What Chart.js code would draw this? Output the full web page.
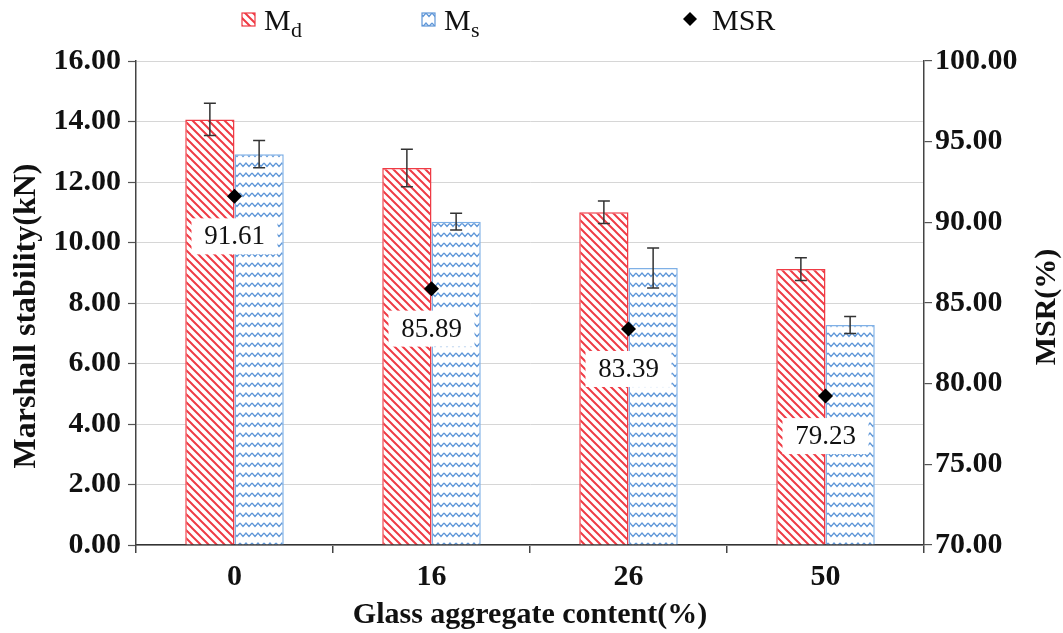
<!DOCTYPE html>
<html>
<head>
<meta charset="utf-8">
<script src="https://cdn.jsdelivr.net/npm/chart.js@4/dist/chart.umd.min.js"></script>
<style>
  html, body { margin: 0; padding: 0; background: #ffffff; }
  #wrap { width: 1063px; height: 633px; }
</style>
</head>
<body>
<div id="wrap"><canvas id="c" width="1063" height="633"></canvas></div>
<script>
// Glass aggregate content (%) on the x axis
const categories = ['0', '16', '26', '50'];
// Marshall stability, dry (Md) and soaked (Ms), kN
const mdValues = [14.07, 12.46, 11.00, 9.12];
const msValues = [12.92, 10.69, 9.16, 7.27];
// Standard deviation of each stability value, kN
const mdErrors = [0.53, 0.62, 0.37, 0.38];
const msErrors = [0.45, 0.28, 0.66, 0.28];
// Marshall stability ratio, %
const msrValues = [91.61, 85.89, 83.39, 79.23];
// Axis ranges and tick steps
const leftTicks = { min: 0, max: 16, step: 2 };
const rightTicks = { min: 70, max: 100, step: 5 };

const SERIF = "'Liberation Serif', 'Times New Roman', serif";
const RED = '#ef3b45';
const BLUE = '#5f97d8';

// Diagonal red hatch for Md bars
function hatchPattern() {
  const s = 8;
  const c = document.createElement('canvas');
  c.width = s; c.height = s;
  const g = c.getContext('2d');
  g.fillStyle = '#ffffff';
  g.fillRect(0, 0, s, s);
  g.strokeStyle = RED;
  g.lineWidth = 2.0;
  g.beginPath();
  g.moveTo(-2, -2); g.lineTo(s + 2, s + 2);
  g.moveTo(-2 - s, -2); g.lineTo(2, s + 2);
  g.moveTo(s - 2, -2); g.lineTo(2 * s + 2, s + 2);
  g.stroke();
  return g.createPattern(c, 'repeat');
}

// Blue zigzag waves for Ms bars
function wavePattern() {
  const w = 12, h = 10;
  const c = document.createElement('canvas');
  c.width = w; c.height = h;
  const g = c.getContext('2d');
  g.fillStyle = '#ffffff';
  g.fillRect(0, 0, w, h);
  g.strokeStyle = BLUE;
  g.lineWidth = 1.3;
  g.beginPath();
  g.moveTo(0, 3);
  g.lineTo(3, 6.5);
  g.lineTo(6, 3);
  g.lineTo(9, 6.5);
  g.lineTo(12, 3);
  g.stroke();
  return g.createPattern(c, 'repeat');
}

const mdFill = hatchPattern();
const msFill = wavePattern();

// Error bars for the two bar series
const errorBars = {
  id: 'errorBars',
  afterDatasetsDraw(chart) {
    const ctx = chart.ctx;
    const y = chart.scales.y;
    const sets = [[0, mdValues, mdErrors], [1, msValues, msErrors]];
    ctx.save();
    ctx.strokeStyle = '#333333';
    ctx.lineWidth = 1.5;
    sets.forEach(([idx, vals, errs]) => {
      const meta = chart.getDatasetMeta(idx);
      meta.data.forEach((bar, i) => {
        const x = bar.x;
        const top = y.getPixelForValue(vals[i] + errs[i]);
        const bot = y.getPixelForValue(vals[i] - errs[i]);
        ctx.beginPath();
        ctx.moveTo(x, top); ctx.lineTo(x, bot);
        ctx.moveTo(x - 6, top); ctx.lineTo(x + 6, top);
        ctx.moveTo(x - 6, bot); ctx.lineTo(x + 6, bot);
        ctx.stroke();
      });
    });
    ctx.restore();
  }
};

// Boxed value labels below the MSR markers
const msrLabels = {
  id: 'msrLabels',
  afterDatasetsDraw(chart) {
    const ctx = chart.ctx;
    const meta = chart.getDatasetMeta(2);
    ctx.save();
    ctx.font = '27px ' + SERIF;
    ctx.textAlign = 'center';
    ctx.textBaseline = 'middle';
    meta.data.forEach((pt, i) => {
      const cx = pt.x, cy = pt.y + 40;
      ctx.fillStyle = '#ffffff';
      ctx.fillRect(cx - 43, cy - 18, 86, 36);
      ctx.fillStyle = '#111111';
      ctx.fillText(msrValues[i].toFixed(2), cx, cy + 1);
    });
    ctx.restore();
  }
};

// Legend with subscripted series names, and the two vertical axis titles
const decorations = {
  id: 'decorations',
  afterDraw(chart) {
    const ctx = chart.ctx;
    ctx.save();
    const cy = 19;
    // Md
    ctx.fillStyle = mdFill;
    ctx.fillRect(242, cy - 6, 13, 13);
    ctx.strokeStyle = RED; ctx.lineWidth = 1.2;
    ctx.strokeRect(242, cy - 6, 13, 13);
    // Ms
    ctx.fillStyle = msFill;
    ctx.fillRect(422, cy - 6, 13, 13);
    ctx.strokeStyle = BLUE;
    ctx.strokeRect(422, cy - 6, 13, 13);
    // MSR diamond
    ctx.fillStyle = '#000000';
    ctx.beginPath();
    ctx.moveTo(690, cy - 7); ctx.lineTo(697, cy); ctx.lineTo(690, cy + 7); ctx.lineTo(683, cy);
    ctx.closePath(); ctx.fill();

    ctx.fillStyle = '#111111';
    ctx.textBaseline = 'alphabetic';
    ctx.textAlign = 'left';
    ctx.font = '30px ' + SERIF;
    ctx.fillText('M', 264, 30);
    ctx.fillText('M', 444, 30);
    ctx.fillText('MSR', 712, 30);
    ctx.font = '22px ' + SERIF;
    ctx.fillText('d', 291, 37);
    ctx.fillText('s', 471, 37);

    ctx.textAlign = 'center';
    ctx.textBaseline = 'middle';

    // Left axis title
    ctx.save();
    ctx.font = 'bold 32px ' + SERIF;
    ctx.translate(27, 316);
    ctx.rotate(-Math.PI / 2);
    ctx.fillText('Marshall stability(kN)', 0, 0);
    ctx.restore();

    // Right axis title, reading upward
    ctx.font = 'bold 30px ' + SERIF;
    ctx.translate(1047, 307);
    ctx.rotate(-Math.PI / 2);
    ctx.fillText('MSR(%)', 0, 0);
    ctx.restore();
  }
};

const tickFont = { family: SERIF, size: 30, weight: 'bold' };

new Chart(document.getElementById('c'), {
  data: {
    labels: categories,
    datasets: [
      {
        type: 'bar', label: 'Md', data: mdValues, yAxisID: 'y',
        backgroundColor: mdFill, borderColor: RED, borderWidth: 1.5,
        categoryPercentage: 0.5, barPercentage: 1.0, order: 2
      },
      {
        type: 'bar', label: 'Ms', data: msValues, yAxisID: 'y',
        backgroundColor: msFill, borderColor: '#7fb0e6', borderWidth: 1.5,
        categoryPercentage: 0.5, barPercentage: 1.0, order: 2
      },
      {
        type: 'line', label: 'MSR', data: msrValues, yAxisID: 'y1',
        showLine: false, pointStyle: 'rectRot', pointRadius: 7.5,
        backgroundColor: '#000000', borderColor: '#000000', borderWidth: 0, order: 1
      }
    ]
  },
  options: {
    responsive: false,
    devicePixelRatio: 1,
    animation: false,
    layout: { padding: { top: 61, left: 0, right: 0, bottom: 0 } },
    plugins: { legend: { display: false }, tooltip: { enabled: false } },
    scales: {
      x: {
        offset: true,
        grid: { offset: true, drawOnChartArea: false, tickLength: 8, color: '#444444', lineWidth: 1.5 },
        border: { display: true, color: '#333333', width: 1.5 },
        ticks: { font: tickFont, color: '#111111', padding: 6 },
        title: { display: true, text: 'Glass aggregate content(%)', font: tickFont, color: '#111111', padding: { top: 4, bottom: 0 } },
        afterFit(s) { s.height = 88; }
      },
      y: {
        position: 'left',
        min: leftTicks.min, max: leftTicks.max,
        ticks: { stepSize: leftTicks.step, font: tickFont, color: '#111111', padding: 7,
                 callback: v => Number(v).toFixed(2) },
        grid: { color: '#d6d6d6', lineWidth: 1, tickLength: 8, tickColor: '#555555', tickWidth: 1.2 },
        border: { display: true, color: '#444444', width: 1.5 },
        afterFit(s) { s.width = 136; }
      },
      y1: {
        position: 'right',
        min: rightTicks.min, max: rightTicks.max,
        ticks: { stepSize: rightTicks.step, font: tickFont, color: '#111111', padding: 3,
                 callback: v => Number(v).toFixed(2) },
        grid: { drawOnChartArea: false, tickLength: 8, color: '#555555', lineWidth: 1.2 },
        border: { display: true, color: '#444444', width: 1.5 },
        afterFit(s) { s.width = 139; }
      }
    }
  },
  plugins: [errorBars, msrLabels, decorations]
});
</script>
</body>
</html>
